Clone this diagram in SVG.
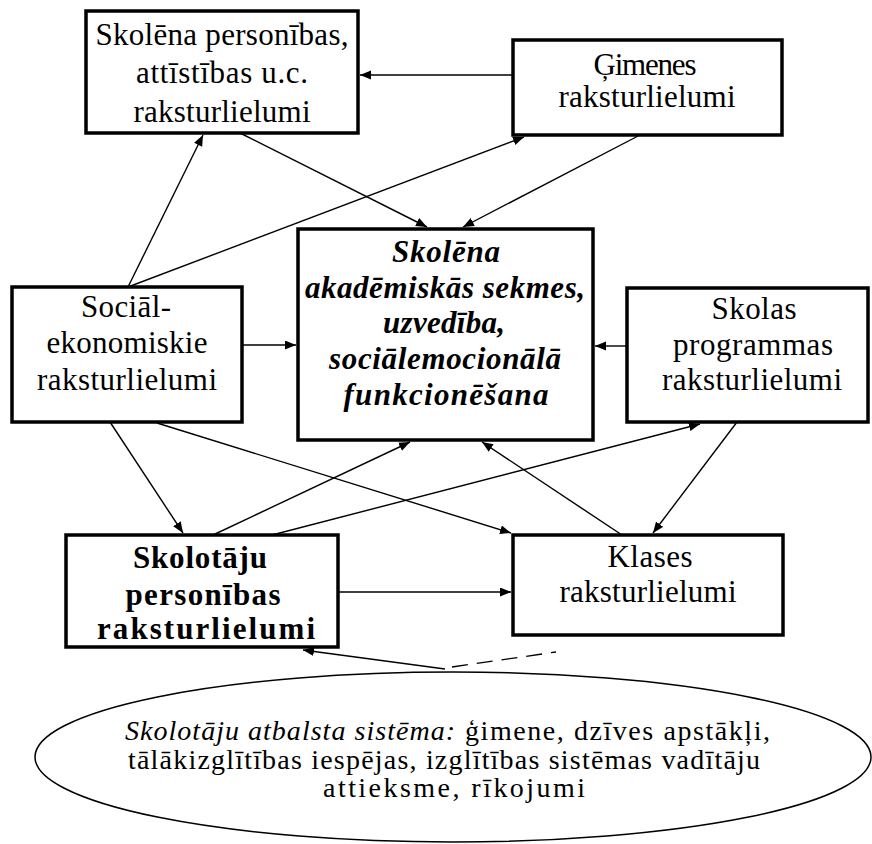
<svg xmlns="http://www.w3.org/2000/svg" width="872" height="844" viewBox="0 0 872 844">
  <style>
    .box { fill: #ffffff; stroke: #000000; stroke-width: 3.5; }
    .t { font-family: 'Liberation Serif', serif; font-size: 31px; fill: #000000; text-anchor: middle; }
    .tb { font-family: 'Liberation Serif', serif; font-size: 31px; font-weight: bold; fill: #000000; text-anchor: middle; }
    .tbi { font-family: 'Liberation Serif', serif; font-size: 31px; font-weight: bold; font-style: italic; fill: #000000; text-anchor: middle; }
    .te { font-family: 'Liberation Serif', serif; font-size: 28px; fill: #000000; }
    .link { fill: none; stroke: #000000; stroke-width: 1.4; marker-end: url(#arrow); }
  </style>
  <defs>
    <marker id="arrow" markerUnits="userSpaceOnUse" markerWidth="12" markerHeight="10" refX="11" refY="4.5" orient="auto">
      <path d="M0,0 L11,4.5 L0,9 z" fill="#000000"/>
    </marker>
  </defs>

  <rect width="872" height="844" fill="#ffffff"/>

  <!-- connectors -->
  <g id="connectors">
    <line class="link" x1="513" y1="75" x2="360" y2="75"/>
    <line class="link" x1="240" y1="133" x2="427" y2="227"/>
    <line class="link" x1="640" y1="135" x2="463" y2="227"/>
    <line class="link" x1="128" y1="287" x2="203" y2="135"/>
    <line class="link" x1="128" y1="287" x2="524" y2="137"/>
    <line class="link" x1="242" y1="345" x2="296" y2="345"/>
    <line class="link" x1="627" y1="346" x2="595" y2="346"/>
    <line class="link" x1="110" y1="422" x2="183" y2="533"/>
    <line class="link" x1="157" y1="423" x2="511" y2="533"/>
    <line class="link" x1="213" y1="535" x2="410" y2="442"/>
    <line class="link" x1="272" y1="535" x2="700" y2="424"/>
    <line class="link" x1="622" y1="535" x2="482" y2="442"/>
    <line class="link" x1="737" y1="422" x2="653" y2="533"/>
    <line class="link" x1="338" y1="592" x2="511" y2="592"/>
    <line class="link" x1="445" y1="669" x2="303" y2="650"/>
    <line x1="452" y1="667" x2="556" y2="652" fill="none" stroke="#000000" stroke-width="1.3" stroke-dasharray="16 9"/>
  </g>

  <!-- student personality / development -->
  <g id="node-personiba">
    <rect class="box" x="86" y="11" width="272" height="122"/>
    <text class="t" x="222" y="45" textLength="253" lengthAdjust="spacing">Skolēna personības,</text>
    <text class="t" x="222" y="83" textLength="172" lengthAdjust="spacing">attīstības u.c.</text>
    <text class="t" x="222" y="122" textLength="177" lengthAdjust="spacing">raksturlielumi</text>
  </g>

  <!-- family -->
  <g id="node-gimene">
    <rect class="box" x="513" y="40" width="269" height="95"/>
    <text class="t" x="645" y="75" textLength="103" lengthAdjust="spacing">Ģimenes</text>
    <text class="t" x="647" y="107" textLength="177" lengthAdjust="spacing">raksturlielumi</text>
  </g>

  <!-- central outcome -->
  <g id="node-sekmes">
    <rect class="box" x="298" y="229" width="295" height="211"/>
    <text class="tbi" x="446" y="262" textLength="108" lengthAdjust="spacing">Skolēna</text>
    <text class="tbi" x="445" y="298" textLength="280" lengthAdjust="spacing">akadēmiskās sekmes,</text>
    <text class="tbi" x="444" y="333" textLength="122" lengthAdjust="spacing">uzvedība,</text>
    <text class="tbi" x="445" y="369" textLength="232" lengthAdjust="spacing">sociālemocionālā</text>
    <text class="tbi" x="446" y="405" textLength="205" lengthAdjust="spacing">funkcionēšana</text>
  </g>

  <!-- socio-economic -->
  <g id="node-socekon">
    <rect class="box" x="12" y="287" width="230" height="135"/>
    <text class="t" x="126" y="317" textLength="90" lengthAdjust="spacing">Sociāl-</text>
    <text class="t" x="127" y="353" textLength="161" lengthAdjust="spacing">ekonomiskie</text>
    <text class="t" x="127" y="390" textLength="180" lengthAdjust="spacing">raksturlielumi</text>
  </g>

  <!-- school programme -->
  <g id="node-programma">
    <rect class="box" x="627" y="288" width="241" height="134"/>
    <text class="t" x="754" y="319" textLength="85" lengthAdjust="spacing">Skolas</text>
    <text class="t" x="753" y="355" textLength="160" lengthAdjust="spacing">programmas</text>
    <text class="t" x="752" y="390" textLength="180" lengthAdjust="spacing">raksturlielumi</text>
  </g>

  <!-- teachers -->
  <g id="node-skolotaji">
    <rect class="box" x="66" y="535" width="272" height="112"/>
    <text class="tb" x="200" y="568" textLength="134" lengthAdjust="spacing">Skolotāju</text>
    <text class="tb" x="203" y="605" textLength="155" lengthAdjust="spacing">personības</text>
    <text class="tb" x="206" y="639" textLength="218" lengthAdjust="spacing">raksturlielumi</text>
  </g>

  <!-- classroom -->
  <g id="node-klase">
    <rect class="box" x="513" y="535" width="270" height="100"/>
    <text class="t" x="650" y="567" textLength="85" lengthAdjust="spacing">Klases</text>
    <text class="t" x="648" y="602" textLength="177" lengthAdjust="spacing">raksturlielumi</text>
  </g>

  <!-- teacher support system -->
  <g id="node-atbalsts">
    <ellipse cx="453" cy="757" rx="418" ry="85" fill="none" stroke="#000000" stroke-width="1.5"/>
    <text class="te" x="125" y="740" font-style="italic" textLength="330" lengthAdjust="spacing">Skolotāju atbalsta sistēma:</text>
    <text class="te" x="465" y="740" textLength="305" lengthAdjust="spacing">ģimene, dzīves apstākļi,</text>
    <text class="te" x="128" y="769" textLength="632" lengthAdjust="spacing">tālākizglītības iespējas, izglītības sistēmas vadītāju</text>
    <text class="te" x="323" y="797" textLength="262" lengthAdjust="spacing">attieksme, rīkojumi</text>
  </g>
</svg>
